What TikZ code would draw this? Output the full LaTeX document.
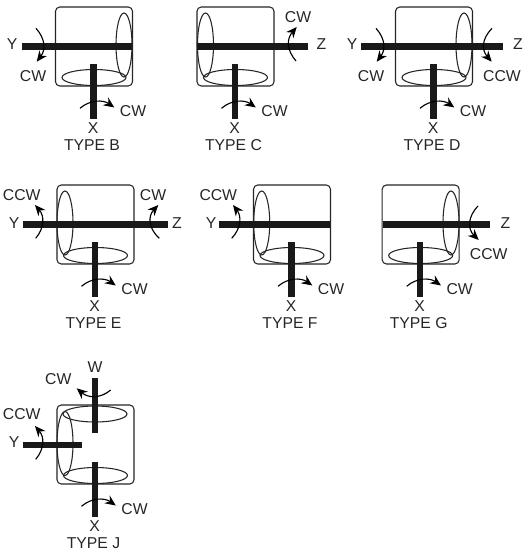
\documentclass[tikz,border=0pt]{standalone}
\usepackage{fontspec}
\setmainfont{Liberation Sans}
\usetikzlibrary{arrows.meta}
\tikzset{
  px/.style={x=0.75pt,y=-0.75pt},
  casebox/.style={draw=black!85,line width=0.8pt,rounded corners=3.2pt},
  ring/.style={draw=black!85,line width=0.8pt},
  shaft/.style={draw=black!90,line width=4.9pt},
  turn/.style={draw=black,line width=0.85pt,-{Stealth[length=8pt,width=7pt]}},
  lab/.style={font=\fontsize{11.8pt}{13pt}\selectfont,inner sep=0pt,text=black!85},
}
\newcommand{\lab}[3]{\node[lab] at (#1,#2) {#3};}
\newcommand{\basepart}[3]{%
\begin{scope}[shift={(#1,#2)}]
  \draw[casebox] (55.5,7) rectangle (132.5,86);
  \draw[ring] (94,77.5) ellipse (32 and 8);
  \draw[shaft] (93.5,64) -- (93.5,119);
  \draw[turn] (80,108.3) .. controls (90,99.6) and (103,99.6) .. (114.3,107.5);
  \lab{133}{111}{CW}
  \lab{93}{128}{X}
  \lab{92}{145}{#3}
\end{scope}}
\begin{document}
\begin{tikzpicture}[px]
\useasboundingbox (0,0) rectangle (522,553);
\fill[white] (0,0) rectangle (522,553);
% TYPE B
\basepart{0}{0}{TYPE B}
\draw[ring] (124,45) ellipse (8 and 32);
\draw[shaft] (22,46.5) -- (132,46.5);
\draw[turn] (36,28.3) .. controls (45.6,39) and (45.6,50) .. (36.7,61.7);
\lab{12}{44}{Y}\lab{33}{76}{CW}
% TYPE C
\basepart{141.5}{0}{TYPE C}
\draw[ring] (205.5,45) ellipse (8 and 32);
\draw[shaft] (197,46.5) -- (308,46.5);
\draw[turn] (296,61) .. controls (286.5,50) and (286.5,39) .. (296.7,27);
\lab{298}{17}{CW}\lab{321.5}{44}{Z}
% TYPE D
\basepart{340}{0}{TYPE D}
\draw[ring] (464,45) ellipse (8 and 32);
\draw[shaft] (361,46.5) -- (503,46.5);
\draw[turn] (376,28.3) .. controls (385.6,39) and (385.6,50) .. (376.7,61.7);
\draw[turn] (492,28.3) .. controls (481.5,39) and (481.5,50) .. (491.7,61.7);
\lab{352}{44}{Y}\lab{371}{76}{CW}\lab{518}{44}{Z}\lab{502}{76}{CCW}
% TYPE E
\basepart{1.5}{178}{TYPE E}
\draw[ring] (65,223) ellipse (8 and 32);
\draw[shaft] (22.7,224.7) -- (167.7,224.7);
\draw[turn] (35.7,238.3) .. controls (44.5,228) and (44.5,216) .. (35,205);
\draw[turn] (159.3,238.3) .. controls (148,228) and (148,216) .. (158.3,205);
\lab{21.7}{195}{CCW}\lab{14}{223}{Y}\lab{153}{195}{CW}\lab{177}{223}{Z}
% TYPE F
\basepart{198}{178}{TYPE F}
\draw[ring] (261.7,223) ellipse (8 and 32);
\draw[shaft] (219.3,224.7) -- (330,224.7);
\draw[turn] (231.7,238.3) .. controls (241.5,228) and (241.5,216) .. (233,205);
\lab{218.3}{195}{CCW}\lab{211}{223}{Y}
% TYPE G
\basepart{326.7}{178}{TYPE G}
\draw[ring] (451,223) ellipse (8 and 32);
\draw[shaft] (382.7,224.7) -- (490.3,224.7);
\draw[turn] (478,206) .. controls (467.5,217) and (467.5,229) .. (478.7,240);
\lab{505.3}{223}{Z}\lab{488.7}{254.3}{CCW}
% TYPE J
\basepart{1.5}{398}{TYPE J}
\draw[ring] (95,414) ellipse (32 and 8);
\draw[ring] (65,443.5) ellipse (8 and 32);
\draw[shaft] (95,378.3) -- (95,433.3);
\draw[shaft] (22.7,445) -- (82,445);
\draw[turn] (35.7,459.3) .. controls (44.5,449) and (44.5,437) .. (35,426);
\draw[turn] (110.7,390) .. controls (100,399) and (88,398) .. (76.7,388.3);
\lab{58.3}{379.3}{CW}\lab{95}{367.5}{W}\lab{21.7}{414.3}{CCW}\lab{14}{441.7}{Y}
\end{tikzpicture}
\end{document}
